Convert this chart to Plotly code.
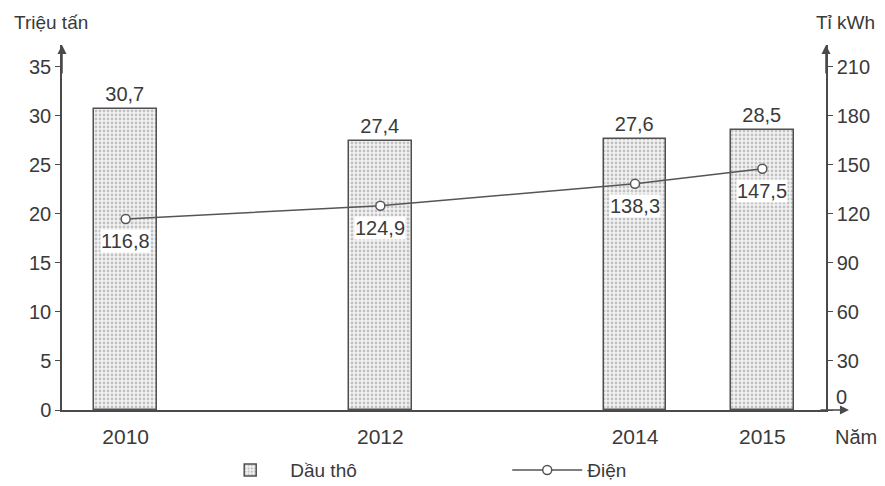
import plotly.graph_objects as go

years = [2010, 2012, 2014, 2015]
dau_tho = [30.7, 27.4, 27.6, 28.5]
dien = [116.8, 124.9, 138.3, 147.5]
dau_labels = ["30,7", "27,4", "27,6", "28,5"]
dien_labels = ["116,8", "124,9", "138,3", "147,5"]
left_ticks = [0, 5, 10, 15, 20, 25, 30, 35]
right_ticks = [0, 30, 60, 90, 120, 150, 180, 210]

FONT = "Liberation Sans, Arial, sans-serif"
TXT = "#3a3a3a"
AX = "#4a4a4a"

fig = go.Figure()
fig.add_trace(go.Bar(
    x=years, y=dau_tho, width=0.49, name="Dầu thô",
    text=dau_labels, textposition="outside", cliponaxis=False,
    textfont=dict(size=20, color=TXT, family=FONT),
    marker=dict(color="#efefef",
                line=dict(color="#505050", width=1.5),
                pattern=dict(shape=".", fgcolor="#8f8f8f", bgcolor="#f3f3f3",
                             size=4, solidity=0.4)),
))
fig.add_trace(go.Scatter(
    x=years, y=dien, yaxis="y2", name="Điện", mode="lines+markers",
    line=dict(color="#555555", width=1.5),
    marker=dict(symbol="circle", size=9, color="white",
                line=dict(color="#555555", width=1.5)),
))

annotations = []
for xv, yv, lab in zip(years, dien, dien_labels):
    annotations.append(dict(x=xv, y=yv, xref="x", yref="y2", text=lab,
                            showarrow=False, yshift=-22, bgcolor="white",
                            borderpad=0,
                            font=dict(size=20, color=TXT, family=FONT)))
# axis titles
annotations += [
    dict(x=-0.065, y=1.063, xref="paper", yref="paper", text="Triệu tấn",
         xanchor="left", yanchor="middle", showarrow=False,
         font=dict(size=19, color=TXT, family=FONT)),
    dict(x=1.067, y=1.063, xref="paper", yref="paper", text="Tỉ kWh",
         xanchor="right", yanchor="middle", showarrow=False,
         font=dict(size=19, color=TXT, family=FONT)),
    dict(x=1.009, y=-0.074, xref="paper", yref="paper", text="Năm",
         xanchor="left", yanchor="middle", showarrow=False,
         font=dict(size=20, color=TXT, family=FONT)),
    dict(x=1.0, y=0, xref="paper", yref="y2", text="0",
         xanchor="left", yanchor="middle", showarrow=False, xshift=8, yshift=13,
         font=dict(size=20, color=TXT, family=FONT)),
]
# axis arrows
arrow = dict(text="", showarrow=True, arrowhead=2, arrowsize=1.2,
             arrowwidth=1.5, arrowcolor=AX, xref="paper", yref="paper")
annotations += [
    dict(arrow, x=0, y=1.0, ax=0, ay=30),
    dict(arrow, x=1, y=1.0, ax=0, ay=30),
    dict(arrow, x=1.03, y=0, ax=-30, ay=0),
]

fig.update_layout(
    width=885, height=486,
    margin=dict(l=62, r=59, t=45, b=76, autoexpand=False),
    plot_bgcolor="white", paper_bgcolor="white",
    font=dict(family=FONT, color=TXT, size=20),
    bargap=0,
    xaxis=dict(range=[2009.5, 2015.5], tickvals=years,
               ticktext=[str(y) for y in years], showgrid=False, zeroline=False,
               showline=True, linecolor=AX, linewidth=1.5, ticks="",
               ticklabelstandoff=7,
               tickfont=dict(size=21, color=TXT, family=FONT)),
    yaxis=dict(range=[0, 37.2], tickvals=left_ticks, showgrid=False,
               zeroline=False, showline=True, linecolor=AX, linewidth=1.5,
               ticks="outside", ticklen=5, tickcolor=AX, tickwidth=1.2,
               tickfont=dict(size=20, color=TXT, family=FONT)),
    yaxis2=dict(range=[0, 223.2], tickvals=right_ticks,
                ticktext=[""] + [str(v) for v in right_ticks[1:]],
                overlaying="y", side="right", showgrid=False, zeroline=False,
                showline=True, linecolor=AX, linewidth=1.5,
                ticks="outside", ticklen=5, tickcolor=AX, tickwidth=1.2,
                tickfont=dict(size=20, color=TXT, family=FONT)),
    showlegend=True,
    legend=dict(orientation="h", x=0.194, y=-0.165, xanchor="left",
                yanchor="middle", entrywidth=212, entrywidthmode="pixels",
                itemwidth=70,
                font=dict(size=19, color=TXT, family=FONT),
                bgcolor="rgba(0,0,0,0)"),
    annotations=annotations,
)

fig.write_html("out.html")
